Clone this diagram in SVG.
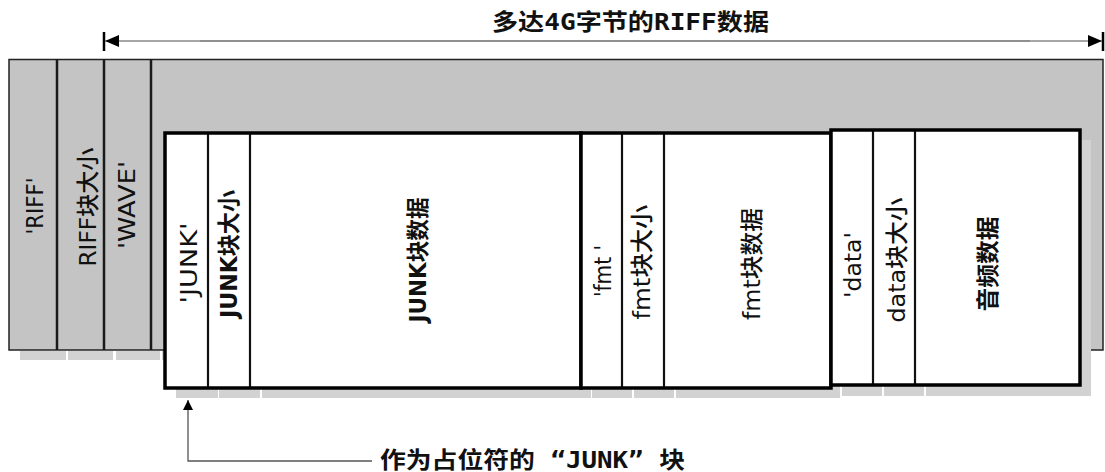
<svg xmlns="http://www.w3.org/2000/svg" width="1105" height="472" viewBox="0 0 1105 472">
<style>
.bg{fill:#ffffff}
.gray{fill:#c4c4c4;stroke:#222;stroke-width:1.5}
.shadow{fill:#d2d2d2}
.cell{fill:#ffffff;stroke:#111;stroke-width:2}
.box{fill:none;stroke:#000;stroke-width:3.5}
.div{stroke:#111;stroke-width:2.2}
.gdiv{stroke:#1a1a1a;stroke-width:2.5}
.lbl{font-family:"DejaVu Sans","Noto Sans CJK SC",sans-serif;font-size:23px;font-weight:500;fill:#111;text-anchor:middle;dominant-baseline:central}
.b{font-weight:bold}
.title{font-family:"DejaVu Sans Mono","Noto Sans CJK SC",monospace;font-size:23px;font-weight:bold;fill:#111}
.dim{stroke:#888;stroke-width:1.5;fill:none}
.tick{stroke:#000;stroke-width:2.5}
.lead{stroke:#555;stroke-width:1.3;fill:none}
</style>
<defs>
<marker id="ah" viewBox="0 0 10 10" refX="10" refY="5" markerWidth="10" markerHeight="10" markerUnits="userSpaceOnUse" orient="auto">
<path d="M0,0 L10,5 L0,10 Z" fill="#000"/>
</marker>
<marker id="ahd" viewBox="0 0 14 12" refX="14" refY="6" markerWidth="14" markerHeight="12" markerUnits="userSpaceOnUse" orient="auto">
<path d="M0,0 L14,6 L0,12 Z" fill="#000"/>
</marker>
</defs>
<rect class="bg" x="0" y="0" width="1105" height="472"/>

<g id="riff-container">
<rect class="shadow" x="20" y="351" width="46" height="9"/>
<rect class="shadow" x="68" y="351" width="45" height="9"/>
<rect class="shadow" x="116" y="351" width="44" height="9"/>
<rect class="shadow" x="162" y="351" width="10" height="9"/>
<rect class="gray" x="9" y="59.5" width="1094" height="290.5"/>
<line class="gdiv" x1="57" y1="59.5" x2="57" y2="350"/>
<line class="gdiv" x1="104" y1="59.5" x2="104" y2="350"/>
<line class="gdiv" x1="151" y1="59.5" x2="151" y2="350"/>
<text class="lbl" font-size="25" transform="translate(35,206) rotate(-90)" textLength="57" lengthAdjust="spacingAndGlyphs">'RIFF'</text>
<text class="lbl" transform="translate(88,207) rotate(-90)" textLength="119" lengthAdjust="spacingAndGlyphs">RIFF块大小</text>
<text class="lbl" font-size="26" transform="translate(127,205) rotate(-90)" textLength="88" lengthAdjust="spacingAndGlyphs">'WAVE'</text>
</g>

<g id="junk-chunk">
<rect class="shadow" x="176" y="143" width="42" height="255"/>
<rect class="shadow" x="219" y="143" width="41" height="255"/>
<rect class="shadow" x="262" y="143" width="329" height="255"/>
<rect class="cell" x="165" y="133" width="416" height="255"/>
<line class="div" x1="208" y1="133" x2="208" y2="388"/>
<line class="div" x1="250" y1="133" x2="250" y2="388"/>
<rect class="box" x="165" y="133" width="416" height="255"/>
<text class="lbl" font-size="26" transform="translate(189,263) rotate(-90)" textLength="81" lengthAdjust="spacingAndGlyphs">'JUNK'</text>
<text class="lbl b" transform="translate(229,254) rotate(-90)" textLength="128" lengthAdjust="spacingAndGlyphs">JUNK块大小</text>
<text class="lbl b" transform="translate(418,260) rotate(-90)" textLength="125" lengthAdjust="spacingAndGlyphs">JUNK块数据</text>
</g>

<g id="fmt-chunk">
<rect class="shadow" x="592" y="143" width="40" height="255"/>
<rect class="shadow" x="634" y="143" width="40" height="255"/>
<rect class="shadow" x="676" y="143" width="164" height="255"/>
<rect class="cell" x="581" y="133" width="250" height="255"/>
<line class="div" x1="622" y1="133" x2="622" y2="388"/>
<line class="div" x1="664" y1="133" x2="664" y2="388"/>
<rect class="box" x="581" y="133" width="250" height="255"/>
<text class="lbl" transform="translate(603,271) rotate(-90)" textLength="52" lengthAdjust="spacingAndGlyphs">'fmt '</text>
<text class="lbl" transform="translate(642,262) rotate(-90)" textLength="115" lengthAdjust="spacingAndGlyphs">fmt块大小</text>
<text class="lbl" transform="translate(752,264) rotate(-90)" textLength="112" lengthAdjust="spacingAndGlyphs">fmt块数据</text>
</g>

<g id="data-chunk">
<rect class="shadow" x="842" y="140" width="40" height="256"/>
<rect class="shadow" x="884" y="140" width="40" height="256"/>
<rect class="shadow" x="926" y="140" width="165" height="256"/>
<rect class="cell" x="831" y="130" width="249" height="255"/>
<line class="div" x1="873" y1="130" x2="873" y2="385"/>
<line class="div" x1="915" y1="130" x2="915" y2="385"/>
<rect class="box" x="831" y="130" width="249" height="255"/>
<text class="lbl" transform="translate(853,265) rotate(-90)" textLength="66" lengthAdjust="spacingAndGlyphs">'data'</text>
<text class="lbl" transform="translate(897,260) rotate(-90)" textLength="125" lengthAdjust="spacingAndGlyphs">data块大小</text>
<text class="lbl b" font-size="24" transform="translate(988,264) rotate(-90)" textLength="95" lengthAdjust="spacingAndGlyphs">音频数据</text>
</g>

<g id="connectors">
<line class="tick" x1="104" y1="32" x2="104" y2="51"/>
<line class="tick" x1="1103" y1="32" x2="1103" y2="51"/>
<line class="dim" x1="1030" y1="41" x2="105" y2="41" marker-end="url(#ahd)"/>
<line class="dim" x1="200" y1="41" x2="1102" y2="41" marker-end="url(#ahd)"/>
<polyline class="lead" points="372,461 188,461 188,400" marker-end="url(#ah)"/>
</g>

<g id="labels">
<text class="title" x="492" y="30" textLength="277" lengthAdjust="spacingAndGlyphs">多达4G字节的RIFF数据</text>
<text class="title" x="380" y="468" font-size="22" textLength="305" lengthAdjust="spacingAndGlyphs">作为占位符的 “JUNK” 块</text>
</g>
</svg>
